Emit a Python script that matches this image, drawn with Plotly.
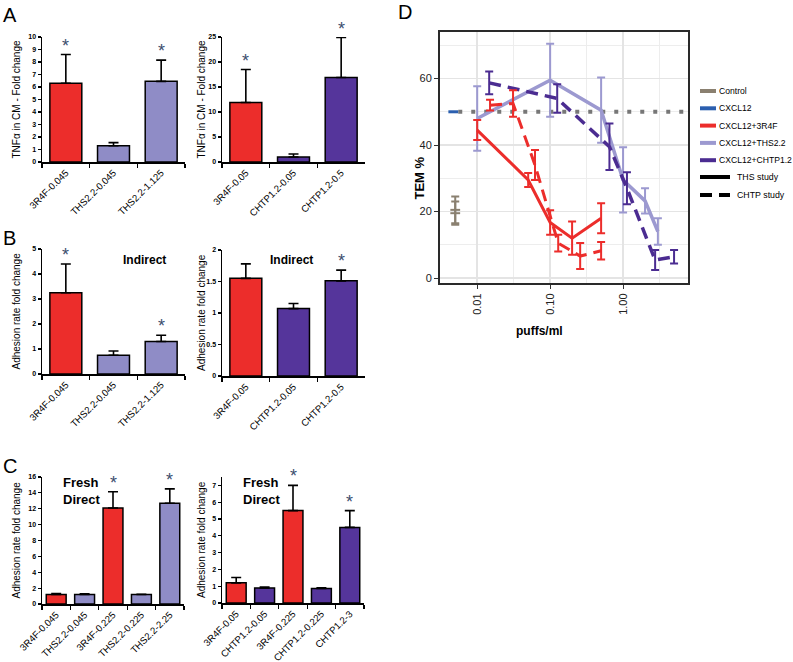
import plotly.graph_objects as go

W, H = 793, 662
FONT = "Arial, 'Liberation Sans', sans-serif"
RED = "#EC2D2B"
LIGHT = "#8F8CC6"
DARK = "#55359B"
CTRL = "#8A8070"
BLUE = "#2B5FAF"
LIGHT_LINE = "#9C99D0"
DARK_LINE = "#4B2C91"
STAR = "#3D4E6E"

# ---------------- data: bar panels ----------------
A1_CATS = ["3R4F-0.045", "THS2.2-0.045", "THS2.2-1.125"]
A1_VALS = [6.3, 1.3, 6.45]
A1_ERR = [2.3, 0.25, 1.7]
A1_SIG = [True, False, True]
A1_TICKS = [0, 1, 2, 3, 4, 5, 6, 7, 8, 9, 10]

A2_CATS = ["3R4F-0.05", "CHTP1.2-0.05", "CHTP1.2-0.5"]
A2_VALS = [11.9, 1.0, 16.9]
A2_ERR = [6.6, 0.6, 8.0]
A2_SIG = [True, False, True]
A2_TICKS = [0, 5, 10, 15, 20, 25]

B1_CATS = ["3R4F-0.045", "THS2.2-0.045", "THS2.2-1.125"]
B1_VALS = [3.25, 0.75, 1.3]
B1_ERR = [1.15, 0.17, 0.25]
B1_SIG = [True, False, True]
B1_TICKS = [0, 1, 2, 3, 4, 5]

B2_CATS = ["3R4F-0.05", "CHTP1.2-0.05", "CHTP1.2-0.5"]
B2_VALS = [1.55, 1.07, 1.51]
B2_ERR = [0.23, 0.08, 0.17]
B2_SIG = [False, False, True]
B2_TICKS = [0, 0.5, 1, 1.5, 2]

C1_CATS = ["3R4F-0.045", "THS2.2-0.045", "3R4F-0.225", "THS2.2-0.225", "THS2.2-2.25"]
C1_VALS = [1.2, 1.2, 12.1, 1.2, 12.7]
C1_ERR = [0.12, 0.1, 2.05, 0.02, 1.8]
C1_SIG = [False, False, True, False, True]
C1_TICKS = [0, 2, 4, 6, 8, 10, 12, 14, 16]

C2_CATS = ["3R4F-0.05", "CHTP1.2-0.05", "3R4F-0.225", "CHTP1.2-0.225", "CHTP1.2-3"]
C2_VALS = [1.2, 0.9, 5.5, 0.86, 4.5]
C2_ERR = [0.32, 0.05, 1.5, 0.05, 1.0]
C2_SIG = [False, False, True, False, True]
C2_TICKS = [0, 1, 2, 3, 4, 5, 6, 7]

# ---------------- data: panel D (TEM %) ----------------
CTRL_X = [0.005, 0.005]
CTRL_Y = [20.5, 19.5]
CTRL_ERR = [4.0, 3.5]

CXCL12_X = [0.0047]
CXCL12_Y = [50]
REF_X = [0.0055, 10]
REF_Y = [50, 50]

THS_R_X = [0.01, 0.05, 0.1, 0.2, 0.5]
THS_R_Y = [44.5, 29.5, 16.7, 12.0, 18.0]
THS_R_ERR = [3.0, 2.1, 3.7, 5.0, 4.5]

CHTP_R_X = [0.015, 0.031, 0.062, 0.129, 0.258, 0.5]
CHTP_R_Y = [52.0, 52.5, 34.0, 10.5, 6.6, 8.2]
CHTP_R_ERR = [1.6, 4.0, 4.5, 2.5, 3.9, 2.6]

THS_X = [0.01, 0.1, 0.5, 1.0, 2.0, 3.0]
THS_Y = [48.0, 59.5, 50.5, 29.5, 23.2, 14.0]
THS_ERR = [9.7, 11.0, 9.8, 9.8, 3.8, 4.0]

CHTP_X = [0.0146, 0.125, 0.65, 1.13, 2.75, 5.0]
CHTP_Y = [58.7, 54.0, 39.5, 27.0, 5.4, 6.4]
CHTP_ERR = [3.4, 4.3, 7.0, 4.8, 3.0, 2.0]

LEGEND_LABELS = ["Control", "CXCL12", "CXCL12+3R4F", "CXCL12+THS2.2", "CXCL12+CHTP1.2"]
STUDY_LABELS = ["THS study", "CHTP study"]


def px_x(p):
    return p / W


def px_y(p):
    return 1 - p / H


def bar_color(cat):
    if cat.startswith("3R4F"):
        return RED
    if cat.startswith("THS"):
        return LIGHT
    return DARK


panels = [
    dict(cats=A1_CATS, vals=A1_VALS, errs=A1_ERR, sig=A1_SIG, ticks=A1_TICKS, ymax=10,
         box=(42, 185, 37, 162), title="TNFα in CM - Fold change", tx=16),
    dict(cats=A2_CATS, vals=A2_VALS, errs=A2_ERR, sig=A2_SIG, ticks=A2_TICKS, ymax=25,
         box=(222, 365, 37, 162), title="TNFα in CM - Fold change", tx=201),
    dict(cats=B1_CATS, vals=B1_VALS, errs=B1_ERR, sig=B1_SIG, ticks=B1_TICKS, ymax=5,
         box=(42, 185, 249, 374), title="Adhesion rate fold change", tx=16),
    dict(cats=B2_CATS, vals=B2_VALS, errs=B2_ERR, sig=B2_SIG, ticks=B2_TICKS, ymax=2,
         box=(222, 365, 250, 376), title="Adhesion rate fold change", tx=201),
    dict(cats=C1_CATS, vals=C1_VALS, errs=C1_ERR, sig=C1_SIG, ticks=C1_TICKS, ymax=16,
         box=(42, 184, 477, 604), title="Adhesion rate fold change", tx=16),
    dict(cats=C2_CATS, vals=C2_VALS, errs=C2_ERR, sig=C2_SIG, ticks=C2_TICKS, ymax=7.5,
         box=(222, 364, 477, 603), title="Adhesion rate fold change", tx=201),
]

fig = go.Figure()
layout = dict(
    template="none",
    width=W, height=H, margin=dict(l=0, r=0, t=0, b=0, pad=0, autoexpand=False),
    paper_bgcolor="white", plot_bgcolor="white", showlegend=False,
    font=dict(family=FONT, color="black"),
)
annotations = []
shapes = []

for i, p in enumerate(panels, start=1):
    sfx = "" if i == 1 else str(i)
    xa, ya = f"x{sfx}", f"y{sfx}"
    n = len(p["cats"])
    x0, x1, yt, yb = p["box"]
    bw = 0.67 if n == 3 else 0.7
    fig.add_trace(go.Bar(
        x=p["cats"], y=p["vals"], xaxis=xa, yaxis=ya, width=bw,
        marker=dict(color=[bar_color(c) for c in p["cats"]], line=dict(color="black", width=1.5)),
        error_y=dict(type="data", array=p["errs"], arrayminus=[0] * n, symmetric=False,
                     color="black", thickness=1.6, width=5),
    ))
    ppu = (yb - yt) / p["ymax"]
    # significance asterisks, placed a few pixels above each error bar
    for c, v, e, s in zip(p["cats"], p["vals"], p["errs"], p["sig"]):
        if s:
            annotations.append(dict(
                x=c, y=(v + e + 9 / ppu) / p["ymax"], xref=xa, yref=f"{ya} domain",
                text="*", showarrow=False, xanchor="center", yanchor="middle",
                font=dict(size=18, color=STAR, family=FONT),
            ))
    layout[f"xaxis{sfx}"] = dict(
        domain=[px_x(x0), px_x(x1)], anchor=ya, type="category", range=[-0.5, n - 0.5],
        showline=True, linecolor="black", linewidth=1.5, ticks="outside", ticklen=4,
        tickwidth=1.2, tickcolor="black", tickson="boundaries", tickangle=-45, showgrid=False,
        zeroline=False, automargin=False,
        tickfont=dict(size=9.6, family=FONT), fixedrange=True,
    )
    layout[f"yaxis{sfx}"] = dict(
        domain=[px_y(yb), px_y(yt)], anchor=xa, range=[0, p["ymax"]], tickvals=p["ticks"],
        showline=True, linecolor="black", linewidth=1.5, ticks="outside", ticklen=3,
        tickwidth=1.2, tickcolor="black", showgrid=False, zeroline=False, automargin=False,
        tickfont=dict(size=7, family=FONT, weight="bold"), fixedrange=True,
    )
    annotations.append(dict(
        x=px_x(p["tx"]), y=px_y((yt + yb) / 2), xref="paper", yref="paper", text=p["title"],
        textangle=-90, showarrow=False, font=dict(size=10, family=FONT),
        xanchor="center", yanchor="middle",
    ))

# ---------------- panel D ----------------
DX, DY = "x7", "y7"


def err(arr, color):
    return dict(type="data", array=arr, color=color, thickness=2, width=4)


fig.add_trace(go.Scatter(x=REF_X, y=REF_Y, xaxis=DX, yaxis=DY, mode="lines",
                         line=dict(color="#777777", width=4, dash="4px,9px")))
fig.add_trace(go.Scatter(x=CTRL_X, y=CTRL_Y, xaxis=DX, yaxis=DY, mode="markers",
                         marker=dict(symbol="line-ew", size=7, line=dict(color=CTRL, width=2)),
                         error_y=err(CTRL_ERR, CTRL)))
fig.add_trace(go.Scatter(x=CXCL12_X, y=CXCL12_Y, xaxis=DX, yaxis=DY, mode="markers",
                         marker=dict(symbol="line-ew", size=7, line=dict(color=BLUE, width=3))))
fig.add_trace(go.Scatter(x=THS_X, y=THS_Y, xaxis=DX, yaxis=DY, mode="lines",
                         line=dict(color=LIGHT_LINE, width=3.5), error_y=err(THS_ERR, LIGHT_LINE)))
fig.add_trace(go.Scatter(x=CHTP_X, y=CHTP_Y, xaxis=DX, yaxis=DY, mode="lines",
                         line=dict(color=DARK_LINE, width=3.5, dash="12px,7px"),
                         error_y=err(CHTP_ERR, DARK_LINE)))
fig.add_trace(go.Scatter(x=THS_R_X, y=THS_R_Y, xaxis=DX, yaxis=DY, mode="lines",
                         line=dict(color=RED, width=3), error_y=err(THS_R_ERR, RED)))
fig.add_trace(go.Scatter(x=CHTP_R_X, y=CHTP_R_Y, xaxis=DX, yaxis=DY, mode="lines",
                         line=dict(color=RED, width=3, dash="12px,7px"),
                         error_y=err(CHTP_R_ERR, RED)))

GRID = "#E4E4E4"
layout["xaxis7"] = dict(
    domain=[px_x(440), px_x(688)], anchor=DY, type="log", range=[-2.51, 0.89],
    tickvals=[0.01, 0.1, 1], ticktext=["0.01", "0.10", "1.00"], tickangle=-90,
    ticks="outside", ticklen=4, tickcolor="#333", showgrid=True, gridcolor=GRID, gridwidth=1.6,
    minor=dict(tickvals=[0.00316, 0.0316, 0.316, 3.16], showgrid=True, gridcolor="#EDEDED",
               gridwidth=1, ticks=""),
    showline=True, mirror=True, linecolor="#2A2A2A", linewidth=2, zeroline=False,
    automargin=False, tickfont=dict(size=11, family=FONT, color="#222"), fixedrange=True,
)
layout["yaxis7"] = dict(
    domain=[px_y(283), px_y(32)], anchor=DX, range=[-1.5, 74], tickvals=[0, 20, 40, 60],
    ticks="outside", ticklen=4, tickcolor="#333", showgrid=True, gridcolor=GRID, gridwidth=1.6,
    minor=dict(tickvals=[10, 30, 50, 70], showgrid=True, gridcolor="#EDEDED", gridwidth=1,
               ticks=""),
    showline=True, mirror=True, linecolor="#2A2A2A", linewidth=2, zeroline=False,
    automargin=False, tickfont=dict(size=11, family=FONT, color="#222"), fixedrange=True,
)

annotations.append(dict(x=px_x(419), y=px_y(155), xref="paper", yref="paper", text="<b>TEM %</b>",
                        textangle=-90, showarrow=False, font=dict(size=13, family=FONT)))
annotations.append(dict(x=px_x(565), y=px_y(331), xref="paper", yref="paper", text="<b>puffs/ml</b>",
                        showarrow=False, font=dict(size=12, family=FONT)))

# panel letters
for letter, lx, ly in [("A", 1, 15), ("B", 1, 238), ("C", 1, 466), ("D", 396, 12)]:
    annotations.append(dict(x=px_x(lx), y=px_y(ly), xref="paper", yref="paper", text=letter,
                            showarrow=False, xanchor="left", yanchor="middle",
                            font=dict(size=20, family=FONT)))

# in-panel notes
for tx, ty in [(121, 260), (291, 260)]:
    annotations.append(dict(x=px_x(tx), y=px_y(ty), xref="paper", yref="paper", text="<b>Indirect</b>",
                            showarrow=False, font=dict(size=12, family=FONT)))
for tx in [61, 241]:
    annotations.append(dict(x=px_x(tx), y=px_y(491), xref="paper", yref="paper",
                            text="<b>Fresh<br>Direct</b>", showarrow=False, align="left",
                            xanchor="left", yanchor="middle", font=dict(size=13, family=FONT)))

# legend for panel D
leg_colors = [CTRL, BLUE, RED, LIGHT_LINE, DARK_LINE]
for k, (lab, col) in enumerate(zip(LEGEND_LABELS, leg_colors)):
    yy = 91 + 17.3 * k
    shapes.append(dict(type="line", xref="paper", yref="paper", x0=px_x(700), x1=px_x(716),
                       y0=px_y(yy), y1=px_y(yy), line=dict(color=col, width=4)))
    annotations.append(dict(x=px_x(717), y=px_y(yy), xref="paper", yref="paper", text=lab,
                            showarrow=False, xanchor="left", yanchor="middle",
                            font=dict(size=8.6, family=FONT)))
for k, lab in enumerate(STUDY_LABELS):
    yy = 177 + 18 * k
    shapes.append(dict(type="line", xref="paper", yref="paper", x0=px_x(700), x1=px_x(730),
                       y0=px_y(yy), y1=px_y(yy),
                       line=dict(color="black", width=4, dash="solid" if k == 0 else "12px,7px")))
    annotations.append(dict(x=px_x(735), y=px_y(yy), xref="paper", yref="paper", text=lab,
                            showarrow=False, xanchor="left", yanchor="middle",
                            font=dict(size=8.8, family=FONT)))

layout["annotations"] = annotations
layout["shapes"] = shapes
fig.update_layout(**layout)
fig.write_html(
    "out.html",
    config={"displayModeBar": False, "staticPlot": True},
    post_script="document.body.style.margin='0';document.body.style.overflow='hidden';",
)
